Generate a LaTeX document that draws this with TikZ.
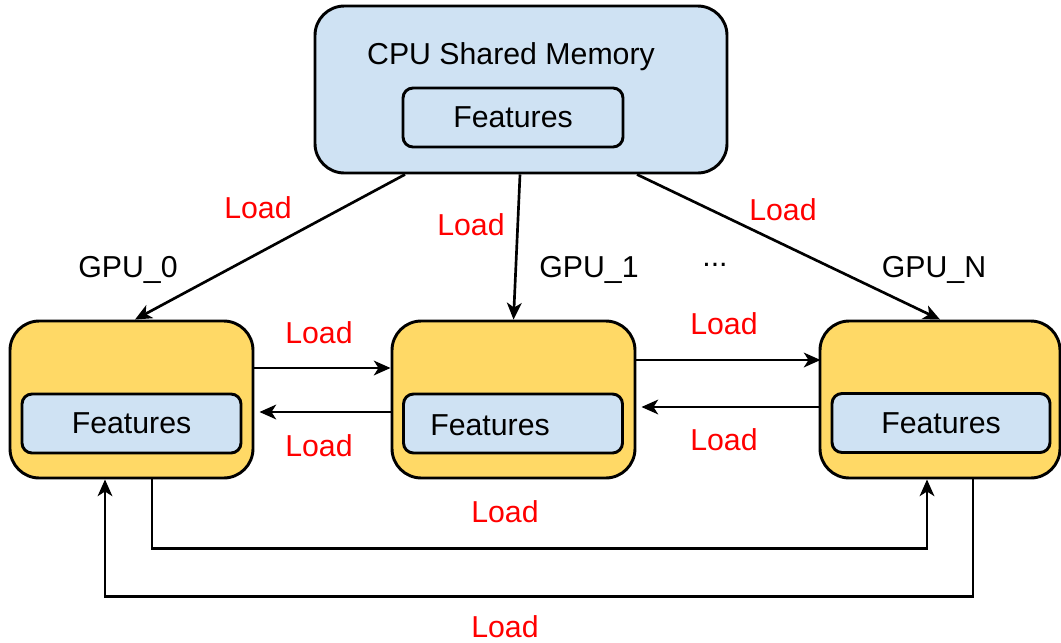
\documentclass[tikz,border=0pt]{standalone}
\usepackage{fontspec}
\setmainfont{Liberation Sans}
\usetikzlibrary{arrows.meta,calc}
\definecolor{boxblue}{HTML}{CFE2F3}
\definecolor{boxyellow}{HTML}{FFD966}
\definecolor{loadred}{HTML}{FF0000}
\begin{document}
\begin{tikzpicture}[x=0.75pt,y=-0.75pt,
  every node/.style={font=\fontsize{22.7}{27}\selectfont},
  outerbox/.style={draw=black, line width=2.2pt, rounded corners=22pt, inner sep=0pt},
  cpubox/.style={outerbox, fill=boxblue, minimum width=309pt, minimum height=125.25pt},
  gpubox/.style={outerbox, fill=boxyellow, minimum width=182.25pt, minimum height=117.75pt},
  featbox/.style={draw=black, line width=2.2pt, fill=boxblue, rounded corners=7.5pt, inner sep=0pt, minimum width=164.25pt, minimum height=44.25pt},
  lbl/.style={text=loadred},
  conn/.style={line width=2pt, -{Stealth[length=12.5pt,width=11pt,inset=3.5pt]}}
]
\useasboundingbox (0,0) rectangle (1061,643);

% boxes
\node[cpubox] (cpu) at (521,89.5) {};
\node (cputxt) at (511,57) {CPU Shared Memory};
\node[featbox, minimum width=165pt] (fc) at (513,117.5) {Features};

\node[gpubox] (g0) at (131.5,399.5) {};
\node[featbox] (f0) at (131.5,423.5) {Features};

\node[gpubox] (g1) at (513.5,399.5) {};
\node[featbox] (f1) at (513,423.5) {};
\node (f1t) at (490,425) {Features};

\node[gpubox, minimum width=180pt] (gN) at (940,399.5) {};
\node[featbox, minimum width=163.5pt] (fN) at (941,423) {Features};

% GPU labels
\node (l0) at (128,270) {GPU\_0};
\node (l1) at (589,270) {GPU\_1};
\node (ldots) at (715,265) {...};
\node (lN) at (934,270) {GPU\_N};

% CPU -> GPU
\draw[conn] ($(cpu.south)+(-116,0)$) -- ($(g0.north)+(3.5,0)$);
\draw[conn] ($(cpu.south)+(-1,0)$) -- (g1.north);
\draw[conn] ($(cpu.south)+(116,0)$) -- (gN.north);
\node[lbl] (ld0) at (258,208) {Load};
\node[lbl] (ld1) at (471,225) {Load};
\node[lbl] (ldN) at (783,210) {Load};

% horizontal
\draw[conn] ($(g0.east)+(0,-31.5)$) -- ($(g1.west)+(0,-31.5)$);
\draw[conn] ($(g1.west)+(0,12.5)$) -- ($(g0.east)+(5,12.5)$);
\draw[conn] ($(g1.east)+(0,-39.5)$) -- ($(gN.west)+(2,-39.5)$);
\draw[conn] ($(gN.west)+(0,7.5)$) -- ($(g1.east)+(5,7.5)$);
\node[lbl] (h1) at (319,333) {Load};
\node[lbl] (h2) at (319,446) {Load};
\node[lbl] (h3) at (724,324) {Load};
\node[lbl] (h4) at (724,440) {Load};

% bottom loops
\draw[conn] ($(g0.south)+(20.5,0)$) -- ++(0,69) -| ($(gN.south)+(-13,0)$);
\draw[conn] ($(gN.south)+(33,0)$) -- ++(0,117) -| ($(g0.south)+(-26.5,0)$);
\node[lbl] (b1) at (505,512) {Load};
\node[lbl, inner sep=0pt] (b2) at (505,627) {Load};
\end{tikzpicture}
\end{document}
